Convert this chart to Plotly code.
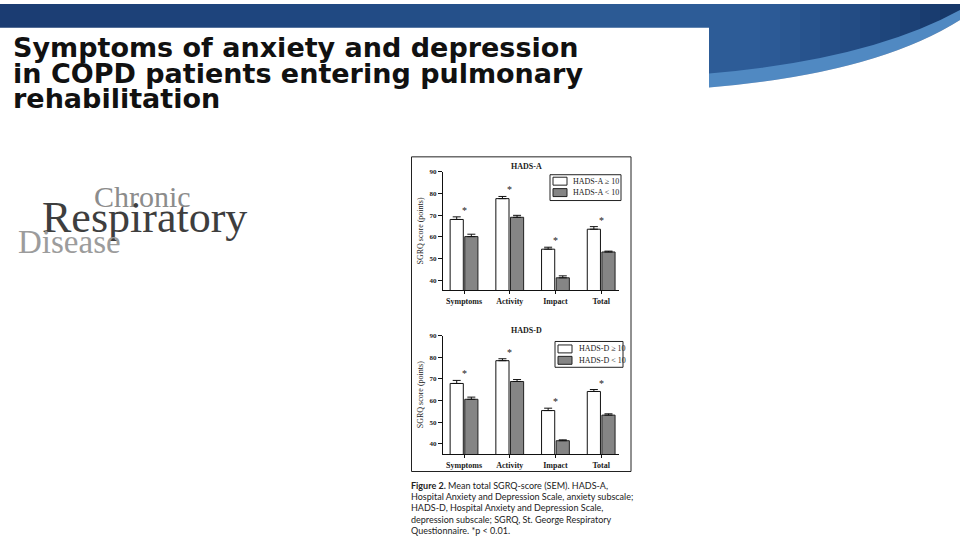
import plotly.graph_objects as go

W, H = 960, 540


def px(x):
    return x / W


def py(y):
    return 1 - y / H


def P(x, y):
    return f"{x / W:.5f},{1 - y / H:.5f}"


# ---------------- data ----------------
categories = ["Symptoms", "Activity", "Impact", "Total"]

hads_a_high = [68.0, 77.6, 54.3, 63.5]
hads_a_high_sem = [1.2, 1.0, 0.9, 1.2]
hads_a_low = [60.1, 69.0, 41.1, 53.0]
hads_a_low_sem = [1.1, 0.9, 0.9, 0.4]

hads_d_high = [67.9, 78.4, 55.4, 64.2]
hads_d_high_sem = [1.4, 0.9, 1.1, 0.9]
hads_d_low = [60.6, 68.8, 41.5, 53.3]
hads_d_low_sem = [1.0, 0.9, 0.4, 0.6]

y_ticks = [40, 50, 60, 70, 80, 90]

panel_titles = ["HADS-A", "HADS-D"]
legend_a = ["HADS-A \u2265 10", "HADS-A < 10"]
legend_d = ["HADS-D \u2265 10", "HADS-D < 10"]
y_title = "SGRQ score (points)"

title_lines = [
    "Symptoms of anxiety and depression",
    "in COPD patients entering pulmonary",
    "rehabilitation",
]
caption_lines = [
    "<b>Figure 2.</b> Mean total SGRQ-score (SEM). HADS-A,",
    "Hospital Anxiety and Depression Scale, anxiety subscale;",
    "HADS-D, Hospital Anxiety and Depression Scale,",
    "depression subscale; SGRQ, St. George Respiratory",
    "Questionnaire. *p < 0.01.",
]

SERIF = "Liberation Serif"
INK = "#1a1a1a"
WHITE_BAR = "white"
GRAY_BAR = "#858585"

fig = go.Figure()
shapes = []


def add_panel(high, high_sem, low, low_sem, names, xa, ya):
    fig.add_trace(go.Bar(
        x=categories, y=high, name=names[0], offsetgroup="a",
        marker=dict(color=WHITE_BAR, line=dict(color="#111", width=1)),
        error_y=dict(type="data", array=high_sem, arrayminus=[0] * len(high),
                     symmetric=False, color="#111", thickness=1, width=4),
        xaxis=xa, yaxis=ya, showlegend=False,
    ))
    fig.add_trace(go.Bar(
        x=categories, y=low, name=names[1], offsetgroup="b",
        marker=dict(color=GRAY_BAR, line=dict(color="#222", width=1)),
        error_y=dict(type="data", array=low_sem, arrayminus=[0] * len(low),
                     symmetric=False, color="#111", thickness=1, width=4),
        xaxis=xa, yaxis=ya, showlegend=False,
    ))
    for c, v, s in zip(categories, high, high_sem):
        fig.add_annotation(x=c, y=v + s, xref=xa, yref=ya, text="*",
                           showarrow=False, yanchor="bottom", yshift=-1,
                           font=dict(family=SERIF, size=10, color=INK))


def add_key(names, box, text_x, rows):
    # compact boxed key, as in the printed figure
    x0, y0, x1, y1 = box
    shapes.append(dict(type="rect", xref="paper", yref="paper",
                       x0=px(x0), x1=px(x1), y0=py(y1), y1=py(y0),
                       fillcolor="white", line=dict(color="#222", width=1)))
    for name, fill, (sx0, sx1, sy0, sy1) in zip(names, [WHITE_BAR, GRAY_BAR],
                                                rows):
        shapes.append(dict(type="rect", xref="paper", yref="paper",
                           x0=px(sx0), x1=px(sx1), y0=py(sy1), y1=py(sy0),
                           fillcolor=fill, line=dict(color="#222", width=1)))
        fig.add_annotation(x=px(text_x), y=py((sy0 + sy1) / 2),
                           xref="paper", yref="paper", text=name,
                           showarrow=False, xanchor="left", yanchor="middle",
                           font=dict(family=SERIF, size=8, color=INK))


add_panel(hads_a_high, hads_a_high_sem, hads_a_low, hads_a_low_sem,
          legend_a, "x", "y")
add_panel(hads_d_high, hads_d_high_sem, hads_d_low, hads_d_low_sem,
          legend_d, "x2", "y2")

xcommon = dict(type="category", range=[-0.46, 3.39], showline=True,
               linecolor="#111", linewidth=1, ticks="outside", ticklen=3,
               tickcolor="#111", showgrid=False, zeroline=False,
               tickfont=dict(family=SERIF, size=8, color=INK, weight="bold"))
ycommon = dict(range=[35.4, 90], tickvals=y_ticks, showline=True,
               linecolor="#111", linewidth=1, ticks="outside", ticklen=4,
               tickcolor="#111", showgrid=False, zeroline=False,
               tickfont=dict(family=SERIF, size=7, color=INK, weight="bold"),
               title=dict(text=y_title, standoff=4,
                          font=dict(family=SERIF, size=8, color=INK)))

fig.update_layout(
    width=W, height=H,
    margin=dict(l=0, r=0, t=0, b=0),
    paper_bgcolor="white", plot_bgcolor="white",
    barmode="group", bargap=0.36, bargroupgap=0.1,
    showlegend=False,
    xaxis=dict(domain=[px(443), px(619)], anchor="y", **xcommon),
    yaxis=dict(domain=[py(288.3), py(169)], anchor="x", **ycommon),
    xaxis2=dict(domain=[px(443), px(619)], anchor="y2", **xcommon),
    yaxis2=dict(domain=[py(453.3), py(334)], anchor="x2", **ycommon),
)

# panel titles
for t, yy in zip(panel_titles, [164, 329]):
    fig.add_annotation(x=px(526), y=py(yy), xref="paper", yref="paper",
                       text=t, showarrow=False, xanchor="center",
                       yanchor="middle",
                       font=dict(family=SERIF, size=8, color=INK,
                                 weight="bold"))

# ---------------- slide decoration: blue banner ----------------
stops = [(0, (27, 60, 114)), (300, (31, 71, 128)), (620, (44, 91, 149)),
         (760, (45, 92, 152)), (900, (29, 67, 121)), (960, (22, 54, 102))]


def col_at(x):
    for (x0, c0), (x1, c1) in zip(stops[:-1], stops[1:]):
        if x0 <= x <= x1:
            t = (x - x0) / (x1 - x0)
            return "rgb(%d,%d,%d)" % tuple(round(a + (b - a) * t)
                                           for a, b in zip(c0, c1))
    return "rgb(22,54,102)"


n = 48
for i in range(n):
    x0 = W * i / n
    x1 = W * (i + 1) / n + 0.6
    shapes.append(dict(type="rect", xref="paper", yref="paper",
                       x0=px(x0), x1=px(min(x1, W)), y0=py(86), y1=py(0),
                       fillcolor=col_at((x0 + x1) / 2), line=dict(width=0),
                       layer="below"))
# light rim of the swoosh
shapes.append(dict(type="path", xref="paper", yref="paper",
                   path=f"M {P(709, 70)} Q {P(870, 56)} {P(960, 6)} "
                        f"L {P(960, 16)} Q {P(875, 70)} {P(709, 84)} Z",
                   fillcolor="#5089c2", line=dict(width=0), layer="below"))
# white areas
shapes.append(dict(type="path", xref="paper", yref="paper",
                   path=f"M {P(709, 84)} Q {P(875, 70)} {P(960, 16)} "
                        f"L {P(960, 90)} L {P(709, 90)} Z",
                   fillcolor="white", line=dict(width=0), layer="below"))
shapes.append(dict(type="rect", xref="paper", yref="paper",
                   x0=0, x1=px(709), y0=py(120), y1=py(24),
                   fillcolor="white", line=dict(width=0), layer="below"))
# figure frame
shapes.append(dict(type="rect", xref="paper", yref="paper",
                   x0=px(411.5), x1=px(631), y0=py(471), y1=py(154),
                   fillcolor="rgba(0,0,0,0)", line=dict(color="#222", width=1)))

# keys (boxed legends) of the two panels
add_key(legend_a, (550, 172, 621, 198), 571,
        [(553, 567, 174.5, 182.5), (553, 567, 186, 194)])
add_key(legend_d, (555, 340, 623, 366), 577,
        [(558, 572, 343.5, 351.5), (558, 572, 355, 363)])

fig.update_layout(shapes=shapes)

# ---------------- slide title ----------------
for t, yy in zip(title_lines, [44, 70, 95]):
    fig.add_annotation(x=px(11), y=py(yy), xref="paper", yref="paper",
                       text=t, showarrow=False, xanchor="left",
                       yanchor="middle",
                       font=dict(family="DejaVu Sans", size=27, color="#111",
                                 weight="bold"))

# ---------------- journal logo ----------------
logo = [("Chronic", 92, 194, 30, "#8c8c8c"),
        ("Respiratory", 40, 215, 44, "#3e3e3e"),
        ("Disease", 16, 240, 33, "#9c9c9c")]
for t, xx, yy, sz, c in logo:
    fig.add_annotation(x=px(xx), y=py(yy), xref="paper", yref="paper",
                       text=t, showarrow=False, xanchor="left",
                       yanchor="middle",
                       font=dict(family=SERIF, size=sz, color=c))

# ---------------- caption ----------------
for i, t in enumerate(caption_lines):
    fig.add_annotation(x=px(409), y=py(485 + i * 11.3), xref="paper",
                       yref="paper", text=t, showarrow=False, xanchor="left",
                       yanchor="middle",
                       font=dict(family="Lato", size=9, color="#222"))

fig.write_html(
    "out.html",
    config={"displayModeBar": False},
    post_script="document.body.style.margin='0';"
                "document.body.style.padding='0';"
                "document.body.style.overflow='hidden';",
)
